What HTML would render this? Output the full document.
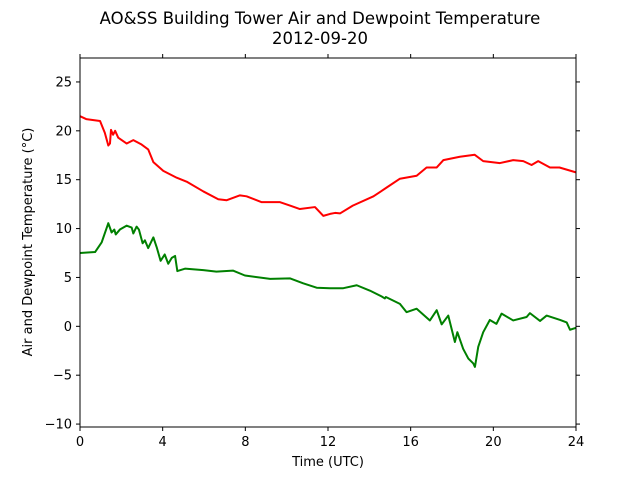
<!DOCTYPE html>
<html><head><meta charset="utf-8">
<style>
html,body{margin:0;padding:0;background:#fff;}
svg{display:block;font-family:"DejaVu Sans","Liberation Sans",sans-serif;}
</style></head>
<body>
<svg id="chart" width="640" height="480" viewBox="0 0 640 480" xmlns="http://www.w3.org/2000/svg">
<rect width="640" height="480" fill="#fff"/>
<text x="320" y="24" text-anchor="middle" font-size="16.5">AO&amp;SS Building Tower Air and Dewpoint Temperature</text>
<text x="320" y="44" text-anchor="middle" font-size="16.5">2012-09-20</text>
<g id="plot"></g>
<text x="328" y="466" text-anchor="middle" font-size="13">Time (UTC)</text>
<text transform="translate(32,242) rotate(-90)" text-anchor="middle" font-size="13">Air and Dewpoint Temperature (°C)</text>
</svg>
<script>
const xTicks = [0,4,8,12,16,20,24];
const yTicks = [-10,-5,0,5,10,15,20,25];
const airTime = [0,0.3,0.97,1.2,1.37,1.45,1.5,1.6,1.7,1.85,2.26,2.58,2.98,3.3,3.55,4.03,4.68,5.16,5.97,6.69,7.1,7.74,8.06,8.79,9.68,10.16,10.64,11.37,11.77,12.1,12.34,12.58,13.2,14.2,14.84,15.48,16.29,16.77,17.26,17.58,18.38,19.1,19.51,20.32,20.96,21.45,21.85,22.17,22.74,23.2,24];
const airTemp = [21.5,21.2,21.0,19.8,18.5,18.7,20.1,19.6,20.0,19.3,18.7,19.05,18.6,18.1,16.8,15.9,15.2,14.8,13.8,13.0,12.9,13.4,13.3,12.7,12.7,12.35,12.0,12.2,11.3,11.5,11.6,11.55,12.35,13.3,14.2,15.1,15.4,16.25,16.25,17.0,17.35,17.55,16.9,16.7,17.0,16.9,16.5,16.9,16.25,16.25,15.75];
const dewTime = [0,0.73,1.05,1.37,1.53,1.66,1.73,1.93,2.26,2.5,2.58,2.74,2.85,3.03,3.14,3.3,3.55,3.71,3.9,4.1,4.27,4.44,4.6,4.71,5.08,5.97,6.6,7.4,7.98,9.2,10.17,10.8,11.45,12.1,12.74,13.39,14.03,14.6,14.75,14.8,15.48,15.8,16.29,16.93,17.26,17.5,17.82,18.14,18.26,18.54,18.79,19.03,19.11,19.27,19.51,19.83,20.15,20.4,20.96,21.61,21.77,22.26,22.58,23.23,23.55,23.71,24];
const dewTemp = [7.5,7.6,8.6,10.55,9.6,9.9,9.4,9.9,10.3,10.1,9.5,10.2,9.9,8.5,8.8,8.0,9.1,8.1,6.7,7.35,6.4,7.0,7.2,5.65,5.9,5.75,5.6,5.7,5.2,4.85,4.9,4.4,3.95,3.9,3.9,4.2,3.65,3.05,2.85,3.0,2.3,1.45,1.8,0.6,1.65,0.2,1.1,-1.6,-0.6,-2.3,-3.3,-3.8,-4.15,-2.1,-0.6,0.65,0.25,1.3,0.6,0.95,1.35,0.55,1.1,0.65,0.4,-0.35,-0.15];

const L=80,R=576,T=58,B=427, XMIN=0,XMAX=24,YMIN=-10.3,YMAX=27.45;
function sx(v){return L+(v-XMIN)/(XMAX-XMIN)*(R-L);}
function sy(v){return B-(v-YMIN)/(YMAX-YMIN)*(B-T);}
const NS="http://www.w3.org/2000/svg";
const plot=document.getElementById('plot');
function mk(tag,attrs,parent){const e=document.createElementNS(NS,tag);for(const k in attrs)e.setAttribute(k,attrs[k]);(parent||plot).appendChild(e);return e;}

function series(xs,ys,color,name){
  let d='';
  for(let i=0;i<xs.length;i++){d+=(i?'L':'M')+sx(xs[i]).toFixed(2)+','+sy(ys[i]).toFixed(2);}
  const p=mk('path',{d:d,fill:'none',stroke:color,'stroke-width':2,'stroke-linejoin':'round'});
  
  
}
series(airTime,airTemp,'#ff0000','air-temperature-line');
series(dewTime,dewTemp,'#008000','dewpoint-temperature-line');

const frame=mk('rect',{x:L,y:T,width:R-L,height:B-T,fill:'none',stroke:'#000','stroke-width':1});



xTicks.forEach(function(v){
  const x=sx(v);
  const t=mk('line',{x1:x,x2:x,y1:B,y2:B+4,stroke:'#000','stroke-width':1});
  
  
  const t2=mk('line',{x1:x,x2:x,y1:T,y2:T-4,stroke:'#000','stroke-width':1});
  
  
  const lb=mk('text',{x:x,y:B+19,'text-anchor':'middle','font-size':13});
  lb.textContent=String(v);
  
  
});
yTicks.forEach(function(v){
  const y=sy(v);
  const t=mk('line',{x1:L-4,x2:L,y1:y,y2:y,stroke:'#000','stroke-width':1});
  
  
  const t2=mk('line',{x1:R,x2:R+4,y1:y,y2:y,stroke:'#000','stroke-width':1});
  
  
  const lb=mk('text',{x:L-8,y:y+4.5,'text-anchor':'end','font-size':13});
  lb.textContent=(v<0?'\u2212'+Math.abs(v):String(v));
  
  
});
</script>
</body></html>
